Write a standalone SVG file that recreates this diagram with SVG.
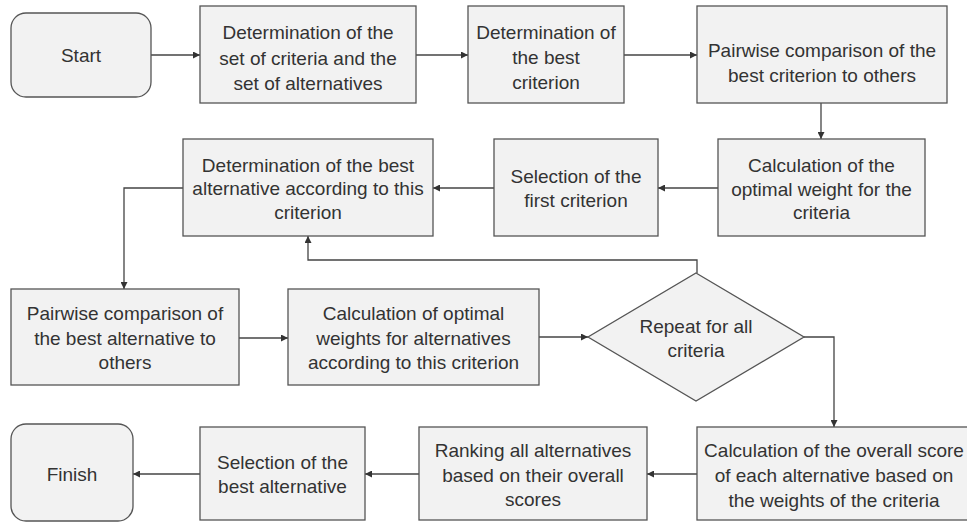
<svg xmlns="http://www.w3.org/2000/svg" width="967" height="523" viewBox="0 0 967 523">
<style>
.n{fill:#f2f2f2;stroke:#555;stroke-width:1.3}
.t{font-family:"Liberation Sans",Arial,sans-serif;font-size:19px;fill:#333;text-anchor:middle}
.c{fill:none;stroke:#444;stroke-width:1.3;marker-end:url(#a)}
</style>
<defs>
<marker id="a" viewBox="0 0 10 10" refX="10" refY="5" markerWidth="8" markerHeight="7" markerUnits="userSpaceOnUse" orient="auto">
<path d="M0,0 L10,5 L0,10 z" fill="#333"/>
</marker>
</defs>
<rect width="967" height="523" fill="#fff"/>
<g id="connectors">
<path class="c" d="M151,55 H200"/>
<path class="c" d="M416,55 H468"/>
<path class="c" d="M624,55 H697"/>
<path class="c" d="M821,103 V139"/>
<path class="c" d="M718,188 H658"/>
<path class="c" d="M494,188 H433"/>
<path class="c" d="M183,188 H124 V289"/>
<path class="c" d="M239,338 H288"/>
<path class="c" d="M539,337 H588"/>
<path class="c" d="M697,273 V260 H308 V236"/>
<path class="c" d="M804,337 H834 V427"/>
<path class="c" d="M697,474 H647"/>
<path class="c" d="M419,474 H365"/>
<path class="c" d="M200,474 H133"/>
</g>
<g id="start">
<rect class="n" x="11" y="13" width="140" height="84" rx="15"/>
<text class="t" x="81" y="62">Start</text>
</g>
<g id="n1">
<rect class="n" x="200" y="6" width="216" height="97"/>
<text class="t" x="308" y="39">Determination of the</text>
<text class="t" x="308" y="64.5">set of criteria and the</text>
<text class="t" x="308" y="90">set of alternatives</text>
</g>
<g id="n2">
<rect class="n" x="468" y="6" width="156" height="97"/>
<text class="t" x="546" y="38.5">Determination of</text>
<text class="t" x="546" y="63.5">the best</text>
<text class="t" x="546" y="88.5">criterion</text>
</g>
<g id="n3">
<rect class="n" x="697" y="6" width="250" height="97"/>
<text class="t" x="822" y="57">Pairwise comparison of the</text>
<text class="t" x="822" y="82">best criterion to others</text>
</g>
<g id="n4">
<rect class="n" x="718" y="139" width="207" height="97"/>
<text class="t" x="821.5" y="172">Calculation of the</text>
<text class="t" x="821.5" y="196">optimal weight for the</text>
<text class="t" x="821.5" y="219">criteria</text>
</g>
<g id="n5">
<rect class="n" x="494" y="139" width="164" height="97"/>
<text class="t" x="576" y="183">Selection of the</text>
<text class="t" x="576" y="207">first criterion</text>
</g>
<g id="n6">
<rect class="n" x="183" y="139" width="250" height="97"/>
<text class="t" x="308" y="172">Determination of the best</text>
<text class="t" x="308" y="195">alternative according to this</text>
<text class="t" x="308" y="219">criterion</text>
</g>
<g id="n7">
<rect class="n" x="11" y="289" width="228" height="96"/>
<text class="t" x="125" y="320">Pairwise comparison of</text>
<text class="t" x="125" y="345">the best alternative to</text>
<text class="t" x="125" y="369">others</text>
</g>
<g id="n8">
<rect class="n" x="288" y="289" width="251" height="96"/>
<text class="t" x="413.5" y="320">Calculation of optimal</text>
<text class="t" x="413.5" y="345">weights for alternatives</text>
<text class="t" x="413.5" y="369">according to this criterion</text>
</g>
<g id="decision">
<polygon class="n" points="696,273 804,337 696,401 588,337"/>
<text class="t" x="696" y="333">Repeat for all</text>
<text class="t" x="696" y="357">criteria</text>
</g>
<g id="n9">
<rect class="n" x="697" y="427" width="275" height="93"/>
<text class="t" x="834" y="457">Calculation of the overall score</text>
<text class="t" x="834" y="482">of each alternative based on</text>
<text class="t" x="834" y="507">the weights of the criteria</text>
</g>
<g id="n10">
<rect class="n" x="419" y="427" width="228" height="93"/>
<text class="t" x="533" y="457">Ranking all alternatives</text>
<text class="t" x="533" y="482">based on their overall</text>
<text class="t" x="533" y="506">scores</text>
</g>
<g id="n11">
<rect class="n" x="200" y="427" width="165" height="93"/>
<text class="t" x="282.5" y="469">Selection of the</text>
<text class="t" x="282.5" y="493">best alternative</text>
</g>
<g id="finish">
<rect class="n" x="11" y="424" width="122" height="97" rx="15"/>
<text class="t" x="72" y="481">Finish</text>
</g>
</svg>
